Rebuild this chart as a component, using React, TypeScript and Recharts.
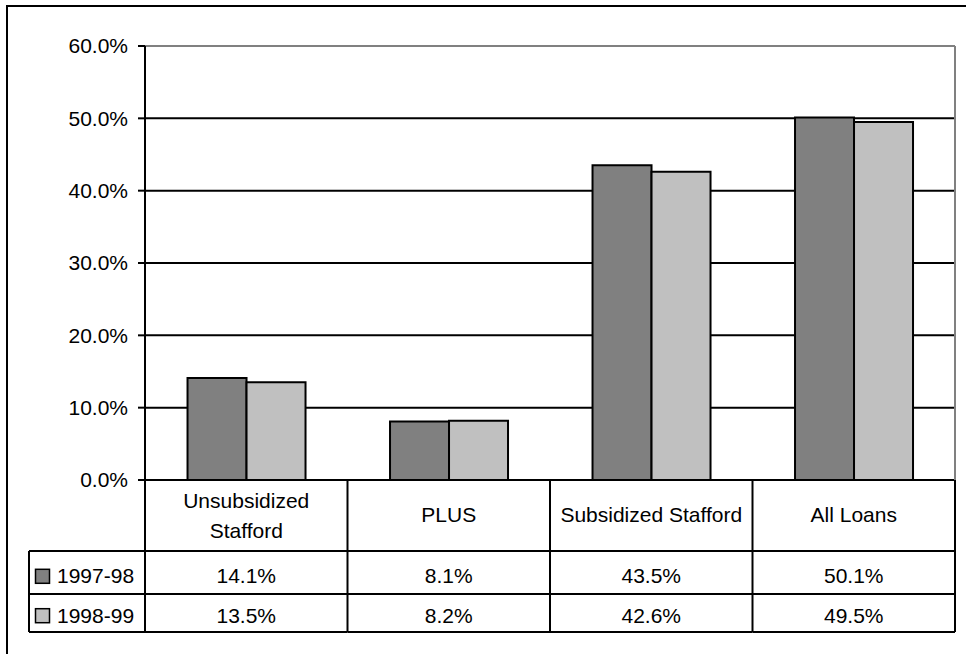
import { Bar, BarChart, CartesianGrid, ReferenceLine, XAxis, YAxis } from "recharts";

const categories = ["Unsubsidized Stafford", "PLUS", "Subsidized Stafford", "All Loans"];
const headerLines = [["Unsubsidized", "Stafford"], ["PLUS"], ["Subsidized Stafford"], ["All Loans"]];
const seriesNames = ["1997-98", "1998-99"];
const values9798 = [14.1, 8.1, 43.5, 50.1];
const values9899 = [13.5, 8.2, 42.6, 49.5];
const yTicks = [0, 10, 20, 30, 40, 50, 60];
const gridValues = [10, 20, 30, 40, 50];

const data = categories.map((name, i) => ({ name, a: values9798[i], b: values9899[i] }));
const seriesValues = [values9798, values9899];
const colors = ["#808080", "#c0c0c0"];

const W = 966;
const H = 654;
const PLOT_LEFT = 145;
const PLOT_RIGHT = 955;
const FONT = '"Liberation Sans", Arial, sans-serif';
const FS = 21;

// data table rows, measured down from the x axis line
const HEADER_H = 71;
const ROW1 = 114;
const ROW2 = 152;
const LEGEND_LEFT = 29;
const rowBaselines = [103.3, 142.7];

const fmt = (v: number) => `${v.toFixed(1)}%`;

function TableColumn(props: any) {
  const { x, y, payload } = props;
  const i = categories.indexOf(payload.value);
  const bw = (PLOT_RIGHT - PLOT_LEFT) / categories.length;
  const left = x - bw / 2;
  const right = x + bw / 2;
  const lines = headerLines[i];
  const lineY = lines.length > 1 ? [28.3, 57.7] : [41.7];
  const ln = { stroke: "#000", strokeWidth: 2 };
  const txt = { fontFamily: FONT, fontSize: FS, fill: "#000" };
  return (
    <g>
      <line x1={left} x2={left} y1={y} y2={y + ROW2} {...ln} />
      {i === categories.length - 1 && <line x1={right} x2={right} y1={y} y2={y + ROW2} {...ln} />}
      {[HEADER_H, ROW1, ROW2].map((h) => (
        <line key={h} x1={left} x2={right} y1={y + h} y2={y + h} {...ln} />
      ))}
      {lines.map((t, k) => (
        <text key={k} x={x} y={y + lineY[k]} textAnchor="middle" {...txt}>
          {t}
        </text>
      ))}
      {seriesValues.map((vals, s) => (
        <text key={s} x={x} y={y + rowBaselines[s]} textAnchor="middle" {...txt}>
          {fmt(vals[i])}
        </text>
      ))}
      {i === 0 && (
        <g>
          <line x1={LEGEND_LEFT} x2={LEGEND_LEFT} y1={y + HEADER_H} y2={y + ROW2} {...ln} />
          {[HEADER_H, ROW1, ROW2].map((h) => (
            <line key={h} x1={LEGEND_LEFT} x2={left} y1={y + h} y2={y + h} {...ln} />
          ))}
          {seriesNames.map((name, s) => (
            <g key={name}>
              <rect
                x={35.5}
                y={y + rowBaselines[s] - 14}
                width={14}
                height={14}
                fill={colors[s]}
                stroke="#000"
                strokeWidth={1.5}
              />
              <text x={57} y={y + rowBaselines[s]} {...txt}>
                {name}
              </text>
            </g>
          ))}
        </g>
      )}
    </g>
  );
}

export default function App() {
  return (
    <div
      style={{
        position: "absolute",
        left: 0,
        top: 0,
        width: W,
        height: H,
        overflow: "hidden",
        background: "#fff",
      }}
    >
      <div
        style={{
          position: "absolute",
          left: 6,
          top: 5,
          width: W + 20,
          height: H + 20,
          border: "2px solid #000",
        }}
      />
      <div style={{ position: "absolute", left: 0, top: 0 }}>
        <BarChart
          width={W}
          height={H}
          data={data}
          margin={{ top: 46, right: 0, bottom: 22, left: 0 }}
          barGap={0}
          barCategoryGap="21%"
        >
          <CartesianGrid
            vertical={false}
            horizontalValues={gridValues}
            stroke="#000"
            strokeWidth={2}
          />
          <XAxis
            dataKey="name"
            height={152}
            interval={0}
            tickSize={0}
            tickMargin={0}
            tickLine={false}
            axisLine={{ stroke: "#000", strokeWidth: 2 }}
            tick={<TableColumn />}
          />
          <YAxis
            domain={[0, 60]}
            ticks={yTicks}
            width={145}
            tickSize={7}
            tickMargin={10}
            tickFormatter={fmt}
            axisLine={{ stroke: "#000", strokeWidth: 2 }}
            tickLine={{ stroke: "#000", strokeWidth: 2 }}
            tick={{ fontFamily: FONT, fontSize: FS, fill: "#000" }}
          />
          <YAxis
            yAxisId="right"
            orientation="right"
            domain={[0, 60]}
            width={11}
            tick={false}
            tickLine={false}
            axisLine={{ stroke: "#808080", strokeWidth: 2 }}
          />
          <ReferenceLine y={60} stroke="#808080" strokeWidth={2} />
          <Bar dataKey="a" name={seriesNames[0]} fill={colors[0]} stroke="#000" strokeWidth={2} isAnimationActive={false} />
          <Bar dataKey="b" name={seriesNames[1]} fill={colors[1]} stroke="#000" strokeWidth={2} isAnimationActive={false} />
        </BarChart>
      </div>
    </div>
  );
}
